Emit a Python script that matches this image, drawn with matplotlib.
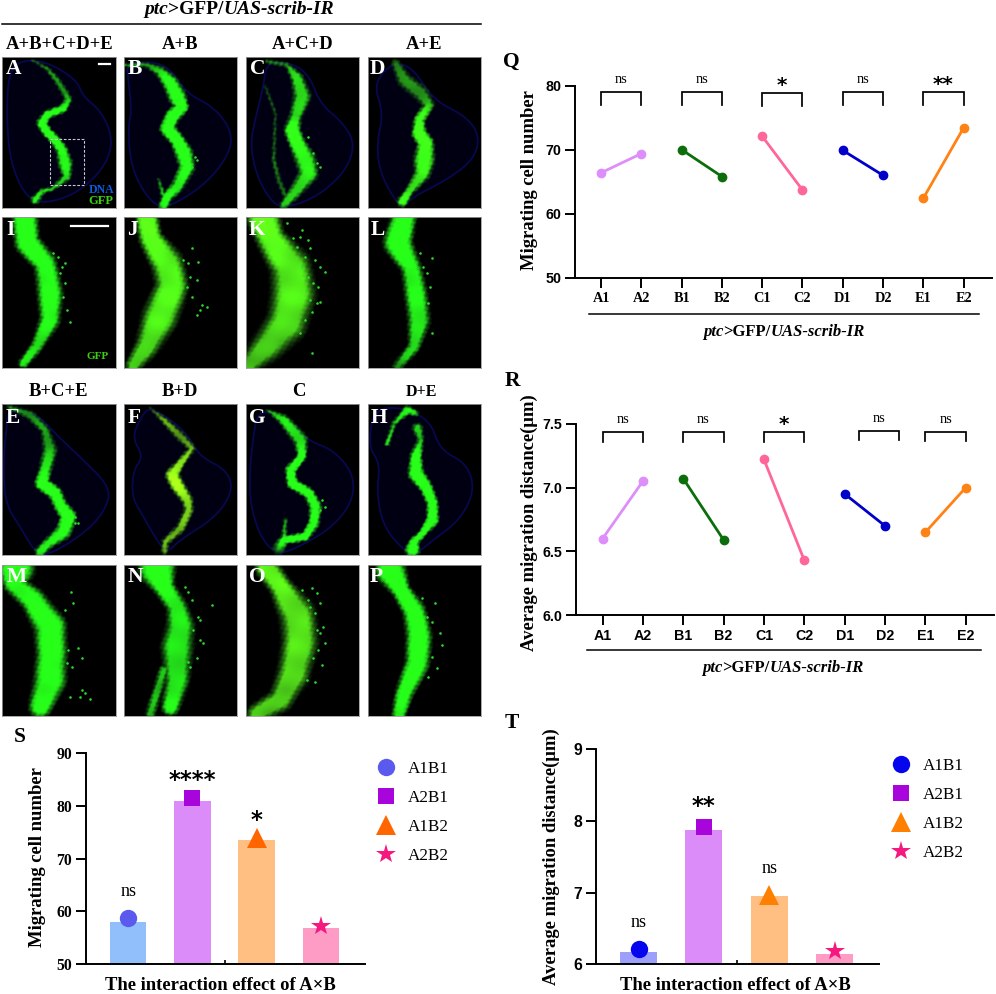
import numpy as np
import matplotlib
matplotlib.use("Agg")
import matplotlib.pyplot as plt
from matplotlib.lines import Line2D
from matplotlib.patches import Polygon, Rectangle
from matplotlib.transforms import IdentityTransform

SERIF = "Liberation Serif"
SANS = "Liberation Sans"

# line charts
PAIR_LABELS = ["A1", "A2", "B1", "B2", "C1", "C2", "D1", "D2", "E1", "E2"]
PAIR_COLORS = ["#DE8EFA", "#0B6E0B", "#FF6699", "#0000C8", "#FF8214"]
Q_VALUES = [66.4, 69.4, 70.0, 65.8, 72.1, 63.7, 69.9, 66.0, 62.4, 73.4]
R_VALUES = [6.60, 7.05, 7.07, 6.59, 7.22, 6.43, 6.95, 6.70, 6.65, 7.00]
Q_SIG = ["ns", "ns", "*", "ns", "**"]
R_SIG = ["ns", "ns", "*", "ns", "ns"]
Q_BRACKET_TOP = [79.0, 79.0, 78.8, 79.0, 79.0]
R_BRACKET_TOP = [7.433, 7.433, 7.433, 7.445, 7.436]
R_BRACKET_SHIFT = [0, 0, 0, 0.35, 0]

# bar charts
AB_LABELS = ["A1B1", "A2B1", "A1B2", "A2B2"]
AB_MARKERS = ["o", "s", "^", "*"]
S_BARS = [58.0, 80.9, 73.6, 56.9]
S_POINTS = [58.7, 81.5, 74.0, 57.3]
S_SIG = ["ns", "****", "*", ""]
S_SIG_Y = [63.7, 84.8, 77.2, 0]
T_BARS = [6.17, 7.87, 6.95, 6.14]
T_POINTS = [6.22, 7.92, 6.97, 6.18]
T_SIG = ["ns", "**", "ns", ""]
T_SIG_Y = [6.59, 8.2, 7.33, 0]
S_BAR_COLORS = ["#90BFFB", "#DC8CF8", "#FFBF82", "#FF9CC5"]
T_BAR_COLORS = ["#9CA0FA", "#DC8CF8", "#FFBF82", "#FF9CC5"]
S_POINT_COLORS = ["#5A5AEE", "#A805DD", "#FF6600", "#F5187F"]
T_POINT_COLORS = ["#0505EE", "#A805DD", "#FF7F00", "#F5187F"]

# micrographs, traced by eye on a 3x crop: (x, y, half width, brightness)
STRIPES = {
    "A": [[(95,180,2,.4),(140,205,4,.45),(170,240,6,.5),(195,280,7,.5),(205,300,7,.6),(190,325,8,.8),(140,345,8,.95),(125,370,10,1),(140,395,9,1),(165,420,9,1),(185,450,11,.9),(195,490,14,.8),(200,530,8,.6),(160,565,4,.6),(125,575,5,.7),(105,600,8,.8)]],
    "B": [[(375,195,3,.5),(440,195,5,.5),(480,215,10,.6),(510,250,15,.85),(530,290,17,1),(545,320,12,1),(515,350,14,1),(500,385,14,1),(530,420,13,1),(550,460,17,1),(560,500,15,.8),(530,560,12,.75),(500,590,10,.8),(490,615,10,.8)],[(475,540,3,.5),(490,590,5,.6)]],
    "C": [[(800,185,3,.6),(860,195,4,.5),(890,235,12,.65),(905,290,17,.7),(885,350,12,.6),(875,390,15,1),(890,430,15,1),(915,480,20,.8),(925,520,18,.7),(880,580,12,.6),(850,615,8,.6)],[(795,260,3,.3),(825,340,3,.35),(820,480,4,.4),(835,540,5,.4),(860,600,5,.4)]],
    "D": [[(1185,190,8,.45),(1210,240,14,.45),(1260,280,15,.5),(1285,315,10,.55),(1255,360,10,.9),(1255,400,14,.95),(1275,430,15,1),(1270,480,20,.9),(1265,520,15,.75),(1225,575,8,.7),(1205,605,10,.9)]],
    "I": [[(75,655,32,1),(80,730,30,1),(135,790,28,.85),(150,880,32,.85),(150,960,25,.85),(110,1040,15,.7),(70,1090,12,.8)]],
    "J": [[(440,655,28,1),(450,720,28,.9),(500,790,40,.75),(515,860,40,.8),(480,950,45,.75),(440,1040,30,.6),(400,1095,20,.6)]],
    "K": [[(790,655,40,1),(810,720,35,.85),(870,800,50,.7),(880,880,55,.75),(860,970,50,.65),(800,1040,40,.55),(750,1090,25,.55)]],
    "L": [[(1210,655,30,1),(1190,730,35,1),(1230,800,25,.8),(1245,880,28,.8),(1255,960,28,.75),(1240,1040,15,.7),(1190,1100,12,.5)]],
    "E": [[(25,140,3,.5),(90,165,9,.45),(135,210,8,.5),(150,270,14,.55),(135,330,12,.8),(125,370,13,1),(165,400,13,1),(180,435,13,.95),(205,470,15,1),(190,515,15,.85),(145,550,10,.7),(120,575,10,.75)]],
    "F": [[(450,145,2,.35),(490,180,6,.5),(540,230,9,.5),(575,265,6,.55),(540,310,8,.65),(515,345,13,.85),(530,375,13,.9),(560,420,11,.7),(565,450,9,.6),(540,505,9,.55),(495,545,7,.55),(492,575,6,.5)]],
    "G": [[(800,150,2,.5),(850,180,10,.7),(900,240,14,.7),(905,290,8,.95),(870,330,10,1),(875,370,10,1),(925,400,10,1),(945,440,12,.85),(940,490,10,.85),(915,530,8,1),(850,540,8,1),(835,565,12,.45)],[(855,480,4,.5),(850,540,5,.7)]],
    "H": [[(1160,250,5,.7),(1180,190,4,.6),(1220,150,8,.85),(1245,160,5,.7)],[(1250,205,10,.6),(1260,240,6,.6),(1245,290,11,1),(1245,340,15,1),(1275,380,12,1),(1295,430,11,1),(1295,480,12,.9),(1265,520,7,.9),(1240,545,8,1),(1235,570,14,.9)]],
    "M": [[(50,620,45,1),(40,670,25,.85),(100,720,30,.85),(150,800,40,.9),(155,880,38,.9),(150,960,40,.85),(120,1040,28,.85)]],
    "N": [[(470,625,45,1),(490,680,25,.9),(530,740,25,.75),(540,800,35,.7),(530,860,40,.7),(530,960,30,.7),(510,1040,22,.8)],[(490,930,12,.55),(450,1060,12,.6)]],
    "O": [[(800,620,30,.8),(840,680,28,.75),(890,760,45,.65),(900,840,45,.7),(880,940,40,.65),(840,1020,30,.6),(770,1060,25,.6)]],
    "P": [[(1170,630,38,1),(1200,690,22,.95),(1240,750,28,.9),(1255,830,32,.9),(1250,910,30,.9),(1210,1000,22,.9),(1195,1060,18,.8)]],
}
DISCS = {
    "A": [(90,180),(150,190),(230,240),(250,290),(300,330),(335,400),(330,470),(280,540),(210,590),(120,612),(70,580),(30,480),(20,350),(25,230),(50,190)],
    "B": [(380,190),(460,185),(510,205),(560,280),(640,320),(695,390),(690,460),(620,550),(520,615),(470,622),(420,560),(390,480),(385,380),(395,330),(385,240)],
    "C": [(800,185),(880,190),(930,230),(960,310),(1030,370),(1065,430),(1040,510),(960,585),(870,622),(820,615),(770,530),(750,430),(770,340),(790,260)],
    "D": [(1180,185),(1240,205),(1300,300),(1400,350),(1440,410),(1420,480),(1340,540),(1240,590),(1215,618),(1190,610),(1140,520),(1130,430),(1150,340),(1120,250)],
    "E": [(25,145),(110,160),(170,225),(250,300),(320,370),(330,420),(280,500),(160,580),(110,585),(60,500),(15,430),(10,300),(20,200)],
    "F": [(450,145),(500,170),(560,220),(600,290),(680,330),(700,390),(650,470),(540,540),(500,580),(470,540),(430,470),(395,410),(400,330),(430,290),(395,230),(430,160)],
    "G": [(800,150),(880,190),(920,240),(1000,270),(1060,340),(1060,420),(1000,500),(900,560),(830,585),(780,530),(750,430),(750,320),(760,230),(770,170)],
    "H": [(1120,150),(1200,140),(1290,180),(1320,270),(1400,310),(1425,390),(1380,480),(1300,540),(1245,585),(1210,570),(1150,500),(1130,400),(1140,310),(1105,260)],
}
SPECKS = {
    "B": [(585,470),(590,480),(575,500)],
    "C": [(940,460),(950,490),(925,410),(960,500)],
    "E": [(225,470),(225,490),(235,490)],
    "G": [(965,420),(960,450),(975,440)],
    "I": [(185,800),(195,790),(180,820),(195,850),(200,930),(210,965),(190,890),(175,770),(160,760)],
    "J": [(575,745),(595,785),(570,830),(590,840),(560,860),(600,930),(620,920),(590,945),(575,890),(565,790),(550,780),(605,915)],
    "K": [(900,710),(925,720),(890,740),(930,745),(960,800),(945,780),(915,770),(975,815),(940,850),(955,860),(930,900),(950,910),(935,935),(915,960),(935,1058),(905,690),(880,715),(860,670),(905,800),(925,830),(960,905),(900,1000)],
    "L": [(1295,775),(1260,760),(1280,820),(1290,860),(1285,910),(1270,800),(1295,1000)],
    "M": [(212,695),(218,730),(195,750),(205,870),(235,865),(245,895),(200,910),(215,920),(245,990),(255,1000),(270,1018),(240,1010),(210,1010)],
    "N": [(565,695),(575,720),(595,770),(635,735),(600,840),(610,850),(590,895),(570,920),(600,780),(580,810),(555,680),(565,905)],
    "O": [(935,685),(950,700),(925,720),(960,730),(945,760),(970,800),(975,850),(955,870),(965,915),(940,895),(920,960),(945,965),(905,690),(960,820),(930,740),(950,810),(925,880)],
    "P": [(1265,715),(1305,730),(1320,820),(1295,785),(1325,855),(1310,925),(1295,890),(1285,950),(1280,770)],
}
PANEL_GRID = ["ABCD", "IJKL", "EFGH", "MNOP"]
COL_LEFT = [2.3, 124, 246, 367.7]
ROW_TOP = [57.3, 217.3, 404.3, 565]
CROP_X = [7, 372, 738, 1103]
CROP_Y = [172, 652, 133, 615]
LETTER_POS = {"A":(35,36),"B":(33,36),"C":(34,36),"D":(30,36),"I":(23,38),"J":(26,38),"K":(32,38),"L":(30,38),
              "E":(31,42),"F":(30,42),"G":(34,42),"H":(34,42),"M":(43,35),"N":(35,35),"O":(35,35),"P":(27,35)}
RED_TINT = {"F": 0.62, "J": 0.28, "K": 0.3, "O": 0.34, "D": 0.16, "C": 0.1}

W, H = 996, 994
fig = plt.figure(figsize=(W / 100, H / 100), dpi=100)


def box(l, t, r, b):
    return fig.add_axes([l / W, 1 - b / H, (r - l) / W, (b - t) / H])


def ftext(x, y, s, **kw):
    kw.setdefault("ha", "center")
    kw.setdefault("va", "center")
    kw.setdefault("family", SERIF)
    kw.setdefault("fontweight", "bold")
    return fig.text(x / W, 1 - y / H, s, **kw)


def fline(x0, x1, y, lw=1.1):
    fig.add_artist(Line2D([x0 / W, x1 / W], [1 - y / H, 1 - y / H], color="black", lw=lw))


def genotype(xc, y, size):
    # bold italic / bold mix, placed part by part
    parts = [("ptc", "italic"), (">GFP/", "normal"), ("UAS-scrib-IR", "italic")]
    rend = fig.canvas.get_renderer()
    items = [ftext(0, y, s, ha="left", style=st, fontsize=size) for s, st in parts]
    widths = [t.get_window_extent(rend).width for t in items]
    x = xc - sum(widths) / 2
    for t, w in zip(items, widths):
        t.set_x(x / W)
        x += w


def smooth(points, n=3):
    p = np.array(points, float)
    for _ in range(n):
        q = np.roll(p, -1, axis=0)
        p = np.column_stack([0.75 * p + 0.25 * q, 0.25 * p + 0.75 * q]).reshape(-1, 2)
    return p


def stripe_image(paths, ox, oy, red, grow):
    xx, yy = np.meshgrid(np.arange(0, 340, 1.5, dtype=np.float32), np.arange(0, 453, 1.5, dtype=np.float32))
    wob = 1.2 * np.sin(xx * 0.37 + yy * 0.19) + 1.1 * np.sin(yy * 0.43 - xx * 0.07)
    level = np.zeros_like(xx)
    for path in paths:
        p = np.array(path, dtype=np.float32)
        t = np.arange(len(p))
        tt = np.linspace(0, len(p) - 1, 25 * len(p))
        sx, sy, sw, sb = [np.interp(tt, t, p[:, i]) for i in range(4)]
        for a, b, w, v in zip(sx - ox, sy - oy, sw * grow, sb):
            d = np.hypot(xx - a, yy - b) + wob
            soft = 2.5 + 0.35 * w
            level = np.maximum(level, v * np.clip((w - d + soft) / (2 * soft), 0, 1))
    # slow variation only, faster terms show up as a hatch on the wide stripes
    mott = 1 + 0.05 * np.sin(xx * 0.05 + yy * 0.03) + 0.05 * np.sin(yy * 0.07 - xx * 0.02)
    level = np.clip(level * mott, 0, 1)
    rgba = np.zeros(xx.shape + (4,), dtype=np.float32)
    rgba[..., 0] = np.clip(0.1 + red * level, 0, 1)
    rgba[..., 1] = np.clip(0.3 + 0.85 * level, 0, 1)
    rgba[..., 2] = 0.1
    rgba[..., 3] = np.clip(level * 1.7, 0, 1)
    return rgba


for row, names in enumerate(PANEL_GRID):
    for col, name in enumerate(names):
        ax = box(COL_LEFT[col], ROW_TOP[row], COL_LEFT[col] + 113.3, ROW_TOP[row] + 151)
        ax.set_facecolor("black")
        ax.set_xlim(0, 340)
        ax.set_ylim(453, 0)
        ax.set_xticks([])
        ax.set_yticks([])
        for s in ax.spines.values():
            s.set_color("#9a9a9a")
            s.set_linewidth(0.6)
        ox, oy = CROP_X[col], CROP_Y[row]
        grow = 1.0
        if name in DISCS:
            grow = 1.3
            ax.add_patch(Polygon(smooth(np.array(DISCS[name]) - (ox, oy)), closed=True, fc="#000012", ec="#08084E", lw=1.3))
        ax.imshow(stripe_image(STRIPES[name], ox, oy, RED_TINT.get(name, 0.06), grow), extent=(0, 340, 453, 0),
                  aspect="auto", interpolation="bilinear", zorder=2)
        if name in SPECKS:
            sp = np.array(SPECKS[name]) - (ox, oy)
            ax.scatter(sp[:, 0], sp[:, 1], s=3.5, color="#2BD92B", lw=0, zorder=3)
        lx, ly = LETTER_POS[name]
        ax.text(lx, ly, name, color="white", family=SERIF, fontweight="bold", fontsize=15.5, ha="center", va="center", zorder=5)
        if name == "A":
            ax.plot([291, 323], [19, 19], color="white", lw=1.6, zorder=5)
            ax.add_patch(Rectangle((143, 246), 103, 138, fill=False, ec="#C8C8C8", lw=0.8, ls=(0, (2.5, 1.5)), zorder=4))
            ax.text(298, 398, "DNA", color="#0A5CE6", family=SERIF, fontweight="bold", fontsize=8.5, ha="center", va="center", zorder=5)
            ax.text(295, 431, "GFP", color="#3CD010", family=SERIF, fontweight="bold", fontsize=9, ha="center", va="center", zorder=5)
        if name == "I":
            ax.plot([205, 318], [27, 27], color="white", lw=1.6, zorder=5)
            ax.text(286, 418, "GFP", color="#3CD010", family=SERIF, fontweight="bold", fontsize=8, ha="center", va="center", zorder=5)

# header text over the micrographs
genotype(239, 9, 14)
fline(2, 481, 24.3)
for x, s in zip([60, 180, 303, 424], ["A+B+C+D+E", "A+B", "A+C+D", "A+E"]):
    ftext(x, 44.7, s, fontsize=13.4)
for x, s, fs in zip([58.7, 180, 299, 421.7], ["B+C+E", "B+D", "C", "D+E"], [13.4, 13.4, 13.4, 11.5]):
    ftext(x, 391.7, s, fontsize=fs)


def pair_chart(l, t, r, b, values, ylim, ticks, ticklabels, xfont, sig, tops, shifts, drop, ylabel, ylab_xy, letter, letter_xy):
    ax = box(l, t, r, b)
    ax.set_facecolor("none")
    ax.set_ylim(*ylim)
    ax.set_xlim(-0.65, 9.7)
    for i in range(5):
        ax.plot([2 * i, 2 * i + 1], values[2 * i:2 * i + 2], "-o", color=PAIR_COLORS[i], lw=2, ms=6, clip_on=False)
        x0, x1 = 2 * i + shifts[i], 2 * i + 1 + shifts[i]
        ax.plot([x0, x0, x1, x1], [tops[i] - drop, tops[i], tops[i], tops[i] - drop], color="black", lw=1.25, clip_on=False, solid_joinstyle="miter")
        if sig[i] == "ns":
            ax.annotate("ns", ((x0 + x1) / 2, tops[i]), xytext=(0, 9), textcoords="offset points",
                        family=SERIF, fontsize=10.3, ha="center", va="center", annotation_clip=False)
        else:
            ax.annotate(sig[i], ((x0 + x1) / 2, tops[i]), xytext=(0, 5.4), textcoords="offset points",
                        family="DejaVu Sans", fontweight="bold", fontsize=14.5, ha="center", va="center", annotation_clip=False)
    ax.spines[["top", "right"]].set_visible(False)
    ax.spines[["left", "bottom"]].set_linewidth(1.4)
    ax.set_yticks(ticks, ticklabels, family=SANS, fontweight="bold", fontsize=10.3)
    ax.set_xticks(range(10), PAIR_LABELS, family=xfont, fontweight="bold", fontsize=10.3)
    ax.tick_params(axis="both", width=1.4, length=7, pad=3)
    ftext(ylab_xy[0], ylab_xy[1], ylabel, rotation=90, fontsize=13.4)
    ftext(letter_xy[0], letter_xy[1], letter, fontsize=15.5)
    return ax


pair_chart(575, 85.7, 991.7, 277.7, Q_VALUES, (50, 80), [50, 60, 70, 80], ["50", "60", "70", "80"], SERIF,
           Q_SIG, Q_BRACKET_TOP, [0] * 5, 2.0, "Migrating cell number", (529, 180), "Q", (511.7, 61.7))
fline(589, 979, 314.3)
genotype(784, 332, 12)

pair_chart(576.3, 423.7, 994, 615.3, R_VALUES, (6, 7.5), [6, 6.5, 7, 7.5], ["6.0", "6.5", "7.0", "7.5"], SANS,
           R_SIG, R_BRACKET_TOP, R_BRACKET_SHIFT, 0.075, "Average migration distance(μm)", (529, 523), "R", (512, 380.7))
fline(587, 980.7, 649.7)
genotype(783, 668, 12)


def bar_chart(l, t, r, b, bars, points, bar_colors, point_colors, ylim, ticks, tickfam, tickfs, sig, sig_y, ylabel, ylab_xy, letter, letter_xy, xlab_x, leg_x, leg_y):
    ax = box(l, t, r, b)
    ax.set_facecolor("none")
    x = np.arange(4)
    ax.bar(x, bars, 0.57, color=bar_colors, zorder=1)
    ax.set_xlim(-0.655, 3.68)
    ax.set_ylim(*ylim)
    sizes = [12.5, 11, 14, 15]
    for i in range(4):
        ax.plot(x[i], points[i], AB_MARKERS[i], color=point_colors[i], ms=sizes[i], mew=0, zorder=3, clip_on=False)
        if sig[i] == "ns":
            ax.text(x[i], sig_y[i], "ns", family=SERIF, fontsize=13, ha="center", va="center")
        elif sig[i]:
            ax.text(x[i], sig_y[i], sig[i], family="DejaVu Sans", fontweight="bold", fontsize=16.5, ha="center", va="center")
    ax.spines[["top", "right"]].set_visible(False)
    ax.spines[["left", "bottom"]].set_linewidth(1.4)
    ax.set_yticks(ticks, [str(v) for v in ticks], family=tickfam, fontweight="bold", fontsize=tickfs)
    ax.tick_params(axis="y", width=1.4, length=7, pad=3)
    ax.set_xticks([1.5], [""])
    ax.tick_params(axis="x", direction="in", width=1.2, length=3)
    ftext(ylab_xy[0], ylab_xy[1], ylabel, rotation=90, fontsize=13.4)
    ftext(letter_xy[0], letter_xy[1], letter, fontsize=15.5)
    ftext(xlab_x, 986, "The interaction effect of A×B", fontsize=13.4)
    handles = [Line2D([], [], ls="none", marker=m, color=c, ms=s, mew=0) for m, c, s in zip(AB_MARKERS, point_colors, sizes)]
    ax.legend(handles, AB_LABELS, loc="upper left", bbox_to_anchor=(leg_x, H - leg_y), bbox_transform=IdentityTransform(),
              frameon=False, borderpad=0, borderaxespad=0, handletextpad=0.5, handlelength=1.6, labelspacing=0.76,
              prop={"family": SERIF, "size": 12.3})
    return ax


bar_chart(86, 753, 364.7, 964.3, S_BARS, S_POINTS, S_BAR_COLORS, S_POINT_COLORS, (50, 90), [50, 60, 70, 80, 90], SERIF, 11.3,
          S_SIG, S_SIG_Y, "Migrating cell number", (38, 857), "S", (19.3, 737), 220, 372, 761)
bar_chart(595.7, 749.3, 879, 964.3, T_BARS, T_POINTS, T_BAR_COLORS, T_POINT_COLORS, (6, 9), [6, 7, 8, 9], SANS, 11.3,
          T_SIG, T_SIG_Y, "Average migration distance(μm)", (551, 857), "T", (511.7, 723), 735.7, 887, 758)

fig.savefig("out.png", dpi=100)
